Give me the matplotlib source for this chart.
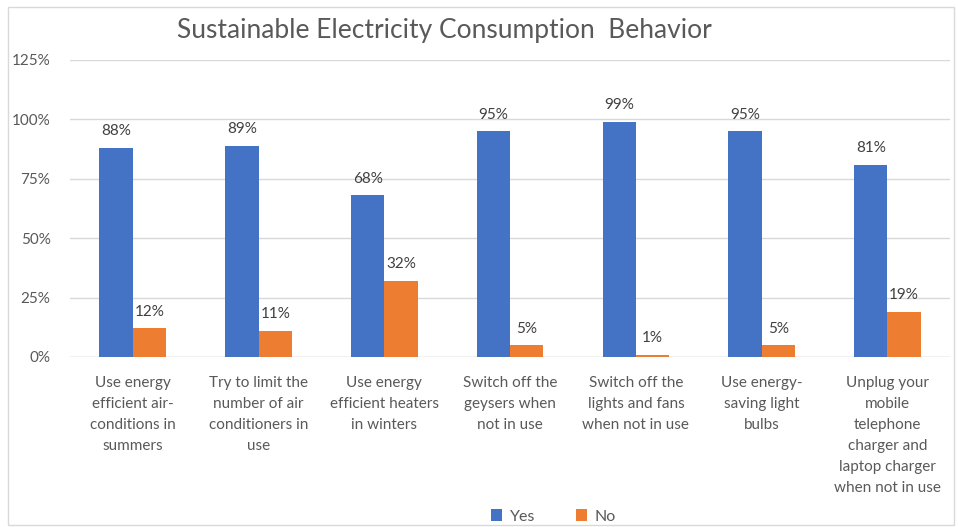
import matplotlib.pyplot as plt
import numpy as np
from matplotlib.patches import Rectangle

# survey answers per behaviour
categories = ['Use energy\nefficient air-\nconditions in\nsummers',
              'Try to limit the\nnumber of air\nconditioners in\nuse',
              'Use energy\nefficient heaters\nin winters',
              'Switch off the\ngeysers when\nnot in use',
              'Switch off the\nlights and fans\nwhen not in use',
              'Use energy-\nsaving light\nbulbs',
              'Unplug your\nmobile\ntelephone\ncharger and\nlaptop charger\nwhen not in use']
yes = [88, 89, 68, 95, 99, 95, 81]
no = [12, 11, 32, 5, 1, 5, 19]

plt.rcParams['font.family'] = ['Lato', 'DejaVu Sans']
txt = '#595959'

fig = plt.figure(figsize=(9.58, 5.27), dpi=100)
ax = fig.add_axes([0.073, 0.3226, 0.919, 0.5636])

x = np.arange(len(categories))
w = 0.265
b1 = ax.bar(x - w/2, np.array(yes)/100, w, color='#4472C4', label='Yes', zorder=3)
b2 = ax.bar(x + w/2, np.array(no)/100, w, color='#ED7D31', label='No', zorder=3)

for bars, vals in ((b1, yes), (b2, no)):
    for r, v in zip(bars, vals):
        ax.text(r.get_x() + r.get_width()/2, r.get_height() + 0.04, f'{v}%',
                ha='center', va='bottom', fontsize=11, color='#404040')

ax.set_xlim(-0.5, len(categories) - 0.5)
ax.set_ylim(0, 1.25)
ax.set_yticks([0, 0.25, 0.5, 0.75, 1.0, 1.25])
ax.set_yticklabels(['0%', '25%', '50%', '75%', '100%', '125%'])
ax.yaxis.grid(True, color='#D9D9D9', linewidth=1, zorder=0)
ax.set_xticks(x)
ax.set_xticklabels(categories, fontsize=11.5, color=txt, linespacing=1.62, va='top')
ax.tick_params(axis='both', length=0, colors=txt, labelsize=11)
ax.tick_params(axis='x', pad=14)
ax.tick_params(axis='y', pad=14)
for s in ax.spines.values():
    s.set_visible(False)
ax.axhline(0, color='#D9D9D9', linewidth=1, zorder=2)

fig.text(0.464, 0.943, 'Sustainable Electricity Consumption  Behavior',
         ha='center', va='center', fontsize=19, color=txt)

leg = fig.legend(loc='center', bbox_to_anchor=(0.578, 0.02), ncol=2, frameon=False,
                 fontsize=11.5, handlelength=0.7, handleheight=0.7, columnspacing=2.5,
                 handletextpad=0.5)
for t in leg.get_texts():
    t.set_color(txt)

fig.patches.append(Rectangle((0.008, 0.004), 0.988, 0.982, transform=fig.transFigure,
                             fill=False, edgecolor='#D9D9D9', linewidth=1))

fig.savefig('out.png', dpi=100)
